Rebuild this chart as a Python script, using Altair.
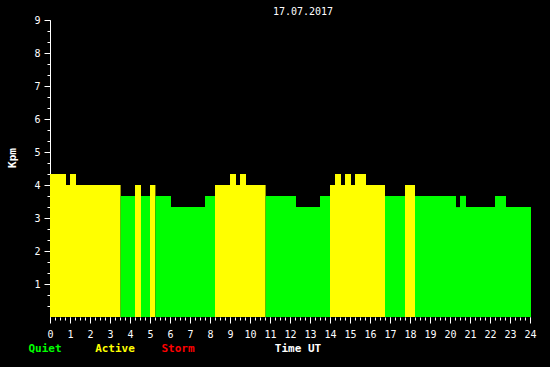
import altair as alt
import pandas as pd

# Kpm segments (hours UT)
seg_start = [0.0, 0.8, 1.0, 1.3, 3.53, 4.25, 4.55, 5.0, 5.27, 6.05, 7.75, 8.25, 9.0, 9.3, 9.5,
             9.8, 10.78, 12.3, 13.5, 14.0, 14.25, 14.55, 14.75, 15.05, 15.25, 15.8, 16.75,
             17.75, 18.25, 20.3, 20.5, 20.8, 22.25, 22.8]
seg_end = seg_start[1:] + [24.05]
kpm = [4.33, 4.0, 4.33, 4.0, 3.67, 4.0, 3.67, 4.0, 3.67, 3.33, 3.67, 4.0, 4.33, 4.0, 4.33,
       4.0, 3.67, 3.33, 3.67, 4.0, 4.33, 4.0, 4.33, 4.0, 4.33, 4.0, 3.67,
       4.0, 3.67, 3.33, 3.67, 3.33, 3.67, 3.33]

levels = ["Quiet", "Active", "Storm"]
level_colors = ["#00ff00", "#ffff00", "#ff0000"]
title_text = "17.07.2017"
x_title = "Time UT"
y_title = "Kpm"
x_major = list(range(0, 25))
x_minor = [i / 4 for i in range(0, 97)]
y_major = list(range(1, 10))
y_minor = [i / 3 for i in range(1, 28)]

def level(v):
    if v < 4:
        return "Quiet"
    if v < 5:
        return "Active"
    return "Storm"

df = pd.DataFrame({"start": seg_start, "end": seg_end, "kpm": kpm,
                   "level": [level(v) for v in kpm]})

FONT = "DejaVu Sans Mono"
xs = alt.Scale(domain=[0, 24], nice=False, zero=False)
ys = alt.Scale(domain=[0, 9], nice=False)

bars = alt.Chart(df).mark_rect().encode(
    x=alt.X("start:Q", scale=xs, axis=alt.Axis(values=x_major, orient="bottom", title=None,
            domain=False, tickSize=6, tickColor="white", labelColor="white",
            labelFont=FONT, labelFontSize=10, labelPadding=6, grid=False, labelFlush=False)),
    x2="end:Q",
    y=alt.Y("kpm:Q", scale=ys, axis=alt.Axis(values=y_major, orient="left", title=None,
            domain=True, domainColor="white", tickSize=6, tickColor="white",
            labelColor="white", labelFont=FONT, labelFontSize=10, labelPadding=4,
            grid=False, labelFlush=False)),
    y2=alt.Y2(datum=0),
    color=alt.Color("level:N", scale=alt.Scale(domain=levels, range=level_colors), legend=None),
)

minor = alt.Chart(df).mark_rect(opacity=0).encode(
    x=alt.X("start:Q", scale=xs, axis=alt.Axis(values=x_minor, orient="bottom", title=None,
            domain=False, tickSize=3, tickColor="white", labels=False, grid=False)),
    x2="end:Q",
    y=alt.Y("kpm:Q", scale=ys, axis=alt.Axis(values=y_minor, orient="left", title=None,
            domain=False, tickSize=3, tickColor="white", labels=False, grid=False)),
    y2=alt.Y2(datum=0),
)

def label_layer(text, color, xpos, ypos, size=11, weight="bold", angle=None):
    kw = dict(font=FONT, fontSize=size, fontWeight=weight, color=color,
              baseline="middle", align="center")
    if angle is not None:
        kw["angle"] = angle
    return alt.Chart(pd.DataFrame({"t": [text]})).mark_text(**kw).encode(
        x=alt.value(xpos), y=alt.value(ypos), text="t:N")

legend_x = [-5, 65, 128]
legend_layers = [label_layer(lab, col, lx, 329) for lab, col, lx in zip(levels, level_colors, legend_x)]

xtitle = label_layer(x_title, "white", 248, 329)
ytitle = label_layer(y_title, "white", -37, 138, angle=270)
top = label_layer(title_text, "white", 253, -8, size=10, weight="normal")

chart = alt.layer(bars, minor, *legend_layers, xtitle, ytitle, top).resolve_axis(
    x="independent", y="independent").resolve_scale(x="shared", y="shared").properties(
    width=480, height=297, background="black",
    padding={"left": 50, "top": 20, "right": 20, "bottom": 50},
    autosize=alt.AutoSizeParams(type="none"),
).configure_view(stroke=None)

chart.save("out.html", embed_options={"renderer": "svg", "actions": False})
